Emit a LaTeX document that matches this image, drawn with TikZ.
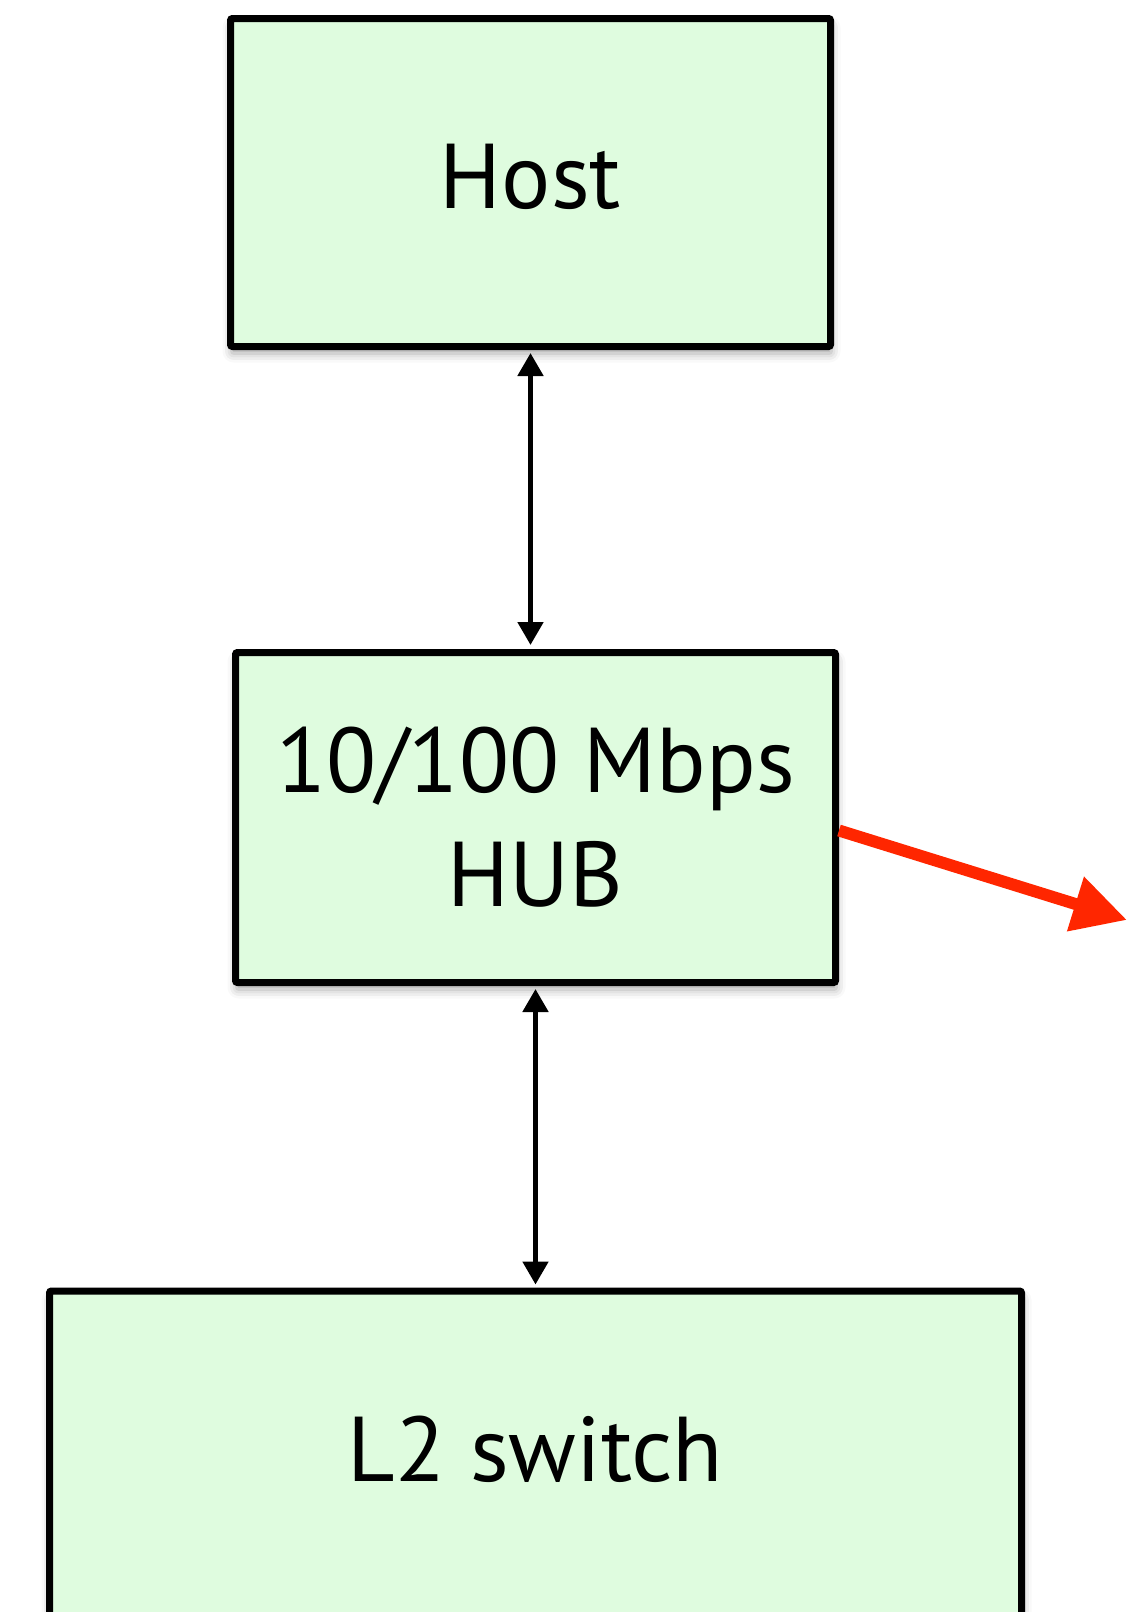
\documentclass[tikz,border=0pt]{standalone}
\usepackage{fontspec}
\setmainfont{PT Sans}
\usetikzlibrary{arrows.meta,shadows.blur}
\definecolor{boxfill}{RGB}{223,252,223}
\definecolor{redarrow}{RGB}{255,38,0}
\begin{document}
\begin{tikzpicture}[x=1pt,y=-1pt,
  box/.style={draw=black, line width=7pt, fill=boxfill, rounded corners=2pt,
    inner sep=0pt, font=\fontsize{92}{114}\selectfont,
    blur shadow={shadow xshift=1pt, shadow yshift=-7pt, shadow blur radius=9pt, shadow opacity=35}},
  link/.style={line width=5pt, {Triangle[length=23pt,width=25pt]}-{Triangle[length=23pt,width=25pt]}},
  outarrow/.style={draw=redarrow, line width=12pt, -{Triangle[length=54pt,width=54pt]}}]
\useasboundingbox (0,0) rectangle (1128,1612);
\clip (0,0) rectangle (1128,1612);
\node[box, minimum width=600pt, text height=189.5pt, text depth=138.5pt] (host) at (530.5,182.5) {Host};
\node[box, minimum width=600pt, minimum height=330pt, align=center] (hub) at (535.5,817.5) {10/100 Mbps\\HUB};
\node[box, minimum width=972pt, text height=190.5pt, text depth=240pt, anchor=north] (l2) at (535.5,1287.5) {L2 switch};
\coordinate (redtip) at (1127,920);
\draw[link] ([yshift=-3pt]host.south) -- ([yshift=4pt]host.south |- hub.north);
\draw[link] ([yshift=-3pt]hub.south) -- ([yshift=3pt]hub.south |- l2.north);
\draw[outarrow] ([yshift=-13pt]hub.east) -- (redtip);
\end{tikzpicture}
\end{document}
